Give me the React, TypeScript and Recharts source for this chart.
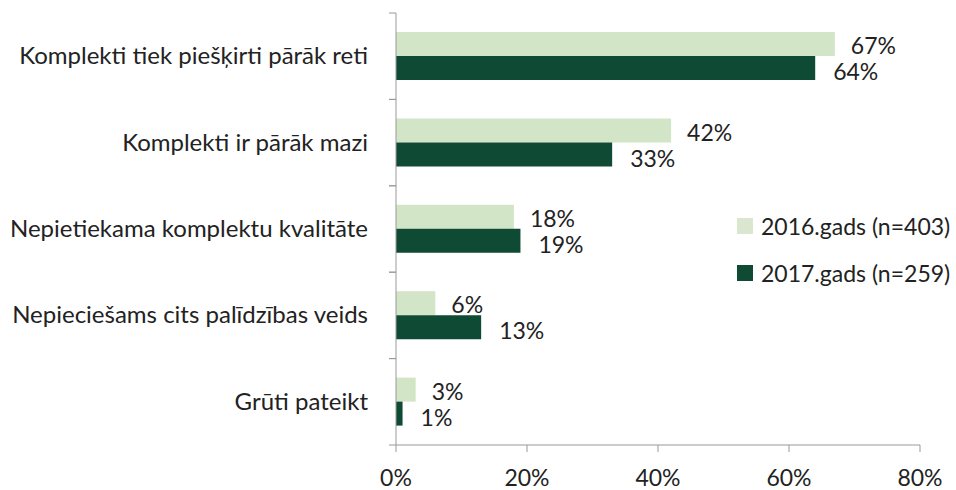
import { Bar, BarChart, XAxis, YAxis, LabelList } from 'recharts';

if (typeof document !== 'undefined') document.body.style.margin = '0';

const categories = [
  'Komplekti tiek piešķirti pārāk reti',
  'Komplekti ir pārāk mazi',
  'Nepietiekama komplektu kvalitāte',
  'Nepieciešams cits palīdzības veids',
  'Grūti pateikt',
];
const values2016 = [67, 42, 18, 6, 3];
const values2017 = [64, 33, 19, 13, 1];
const xTicks = [0, 20, 40, 60, 80];
const seriesNames = ['2016.gads (n=403)', '2017.gads (n=259)'];

const data = categories.map((name, i) => ({
  name,
  y2016: values2016[i],
  y2017: values2017[i],
}));

const FONT = 'Lato, "Open Sans", sans-serif';
const TEXT = '#222';
const LIGHT = '#d2e5c6';
const DARK = '#0f4a35';
const AXIS = '#999';

const BAND = 86.4;

function CategoryTick(props: any) {
  const { x, y, payload } = props;
  const ax = x + 8;
  return (
    <g>
      <line x1={ax - 7} x2={ax} y1={y - BAND / 2} y2={y - BAND / 2} stroke={AXIS} />
      <line x1={ax - 7} x2={ax} y1={y + BAND / 2} y2={y + BAND / 2} stroke={AXIS} />
      <text x={ax - 28} y={y} dy={8} textAnchor="end" fill={TEXT} fontSize={24} fontFamily={FONT}>
        {payload.value}
      </text>
    </g>
  );
}

const labelStyle = { fill: TEXT, fontSize: 23, fontFamily: FONT };

export default function App() {
  return (
    <div style={{ position: 'relative', width: 956, height: 490, background: '#fff' }}>
      <BarChart
        width={956}
        height={490}
        data={data}
        layout="vertical"
        margin={{ top: 13, right: 36, bottom: 10, left: 0 }}
        barCategoryGap={19}
        barGap={0}
      >
        <XAxis
          type="number"
          domain={[0, 80]}
          ticks={xTicks}
          tickFormatter={(v) => `${v}%`}
          stroke={AXIS}
          tickSize={7}
          tick={{ fill: TEXT, fontSize: 23, fontFamily: FONT, dy: 16 }}
          height={35}
        />
        <YAxis
          type="category"
          dataKey="name"
          width={396}
          stroke={AXIS}
          tickLine={false}
          tick={<CategoryTick />}
          interval={0}
        />
        <Bar dataKey="y2016" name={seriesNames[0]} fill={LIGHT} isAnimationActive={false}>
          <LabelList
            dataKey="y2016"
            position="right"
            offset={16}
            dy={2}
            formatter={(v: any) => `${v}%`}
            style={labelStyle}
          />
        </Bar>
        <Bar dataKey="y2017" name={seriesNames[1]} fill={DARK} isAnimationActive={false}>
          <LabelList
            dataKey="y2017"
            position="right"
            offset={18}
            dy={4}
            formatter={(v: any) => `${v}%`}
            style={labelStyle}
          />
        </Bar>
      </BarChart>
      <div style={{ position: 'absolute', left: 737, top: 202, fontFamily: FONT, fontSize: 23, color: TEXT, whiteSpace: 'nowrap' }}>
        {seriesNames.map((n, i) => (
          <div key={n} style={{ display: 'flex', alignItems: 'center', height: 47 }}>
            <span style={{ width: 16, height: 16, background: i === 0 ? '#dae6d0' : DARK, marginRight: 8 }} />
            <span>{n}</span>
          </div>
        ))}
      </div>
    </div>
  );
}
